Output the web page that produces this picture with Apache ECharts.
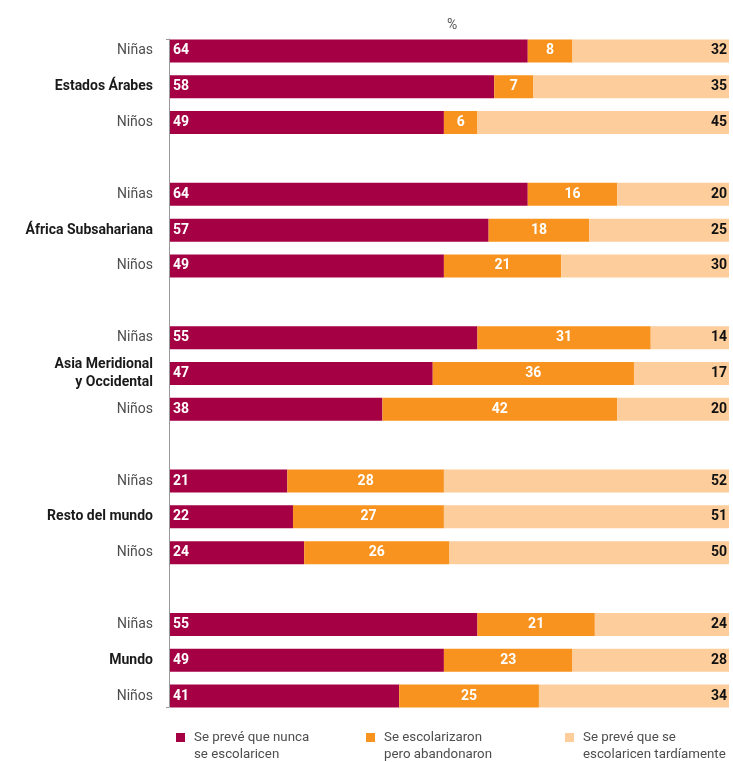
<!DOCTYPE html>
<html>
<head>
<meta charset="utf-8">
<script src="https://cdn.jsdelivr.net/npm/echarts@6/dist/echarts.min.js"></script>
<style>html,body{margin:0;padding:0;background:#fff;}#c{width:733px;height:762px;}</style>
</head>
<body>
<div id="c"></div>
<script>
const groups = ['Estados Árabes', 'África Subsahariana', 'Asia Meridional\ny Occidental', 'Resto del mundo', 'Mundo'];
const subRows = ['Niñas', null, 'Niños'];
const seriesNames = ['Se prevé que nunca\nse escolaricen', 'Se escolarizaron\npero abandonaron', 'Se prevé que se\nescolaricen tardíamente'];
const nunca =       [64, 58, 49, 64, 57, 49, 55, 47, 38, 21, 22, 24, 55, 49, 41];
const abandonaron = [8, 7, 6, 16, 18, 21, 31, 36, 42, 28, 27, 26, 21, 23, 25];
const tarde =       [32, 35, 45, 20, 25, 30, 14, 17, 20, 52, 51, 50, 24, 28, 34];

// Build category rows with a blank spacer row between groups
const cats = [];
const rowIdx = [];
groups.forEach((g, gi) => {
  if (gi > 0) { cats.push(''); }
  subRows.forEach((s) => {
    rowIdx.push(cats.length);
    cats.push(s === null ? g : s);
  });
});
function expand(arr) {
  const out = cats.map(() => '-');
  arr.forEach((v, i) => { out[rowIdx[i]] = v; });
  return out;
}
const colors = ['#A50044', '#F7931E', '#FDCD9C'];
const FONT = 'Roboto';
const chart = echarts.init(document.getElementById('c'), null, { renderer: 'canvas' });
const labelBase = { show: true, fontFamily: FONT, fontWeight: 'bold', fontSize: 14 };
chart.setOption({
  animation: false,
  textStyle: { fontFamily: FONT },
  title: { text: '%', left: 442, top: 13, textStyle: { fontFamily: FONT, fontSize: 14, fontWeight: 'normal', color: '#555' } },
  grid: [
    { left: 170, right: 4, top: 33, bottom: 48 },
    { left: 169, right: 4, top: 39, bottom: 55 }
  ],
  xAxis: [
    { type: 'value', min: 0, max: 100, show: false, gridIndex: 0 },
    { type: 'value', min: 0, max: 1, show: false, gridIndex: 1 }
  ],
  yAxis: [{
    type: 'category', inverse: true, data: cats, gridIndex: 0,
    axisTick: { show: false },
    axisLine: { show: false },
    axisLabel: {
      margin: 17, fontFamily: FONT,
      formatter: function (v) {
        if (groups.indexOf(v) >= 0) {
          return v.split('\n').map(l => '{b|' + l + '}').join('\n');
        }
        return '{n|' + v + '}';
      },
      rich: {
        b: { fontFamily: FONT, fontWeight: 'bold', fontSize: 14, color: '#1a1a1a', lineHeight: 18, align: 'right' },
        n: { fontFamily: FONT, fontSize: 14, color: '#4d4d4d', align: 'right' }
      }
    }
  }, {
    type: 'value', gridIndex: 1, min: 0, max: 1, interval: 1,
    axisLine: { show: true, lineStyle: { color: '#999', width: 1 } },
    axisTick: { show: true, length: 3, lineStyle: { color: '#999' } },
    axisLabel: { show: false }, splitLine: { show: false }
  }],
  legend: seriesNames.map((n, i) => ({
    data: [n], left: [176, 366, 565][i], top: 729, padding: 0,
    icon: 'path://M0,0h9v9h-9zM13,26', itemWidth: 13, itemHeight: 26, itemGap: 6,
    selectedMode: false,
    textStyle: { fontFamily: FONT, fontSize: 13.3, color: '#4d4d4d', lineHeight: 17 }
  })),
  series: [
    { name: seriesNames[0], type: 'bar', stack: 't', barWidth: 23, data: expand(nunca), itemStyle: { color: colors[0] },
      label: Object.assign({}, labelBase, { position: 'insideLeft', distance: 3, color: '#fff' }) },
    { name: seriesNames[1], type: 'bar', stack: 't', barWidth: 23, data: expand(abandonaron), itemStyle: { color: colors[1] },
      label: Object.assign({}, labelBase, { position: 'inside', color: '#fff' }) },
    { name: seriesNames[2], type: 'bar', stack: 't', barWidth: 23, clip: true, data: expand(tarde), itemStyle: { color: colors[2] },
      label: Object.assign({}, labelBase, { position: 'insideRight', distance: 2, color: '#111' }) }
  ]
});
</script>
</body>
</html>
